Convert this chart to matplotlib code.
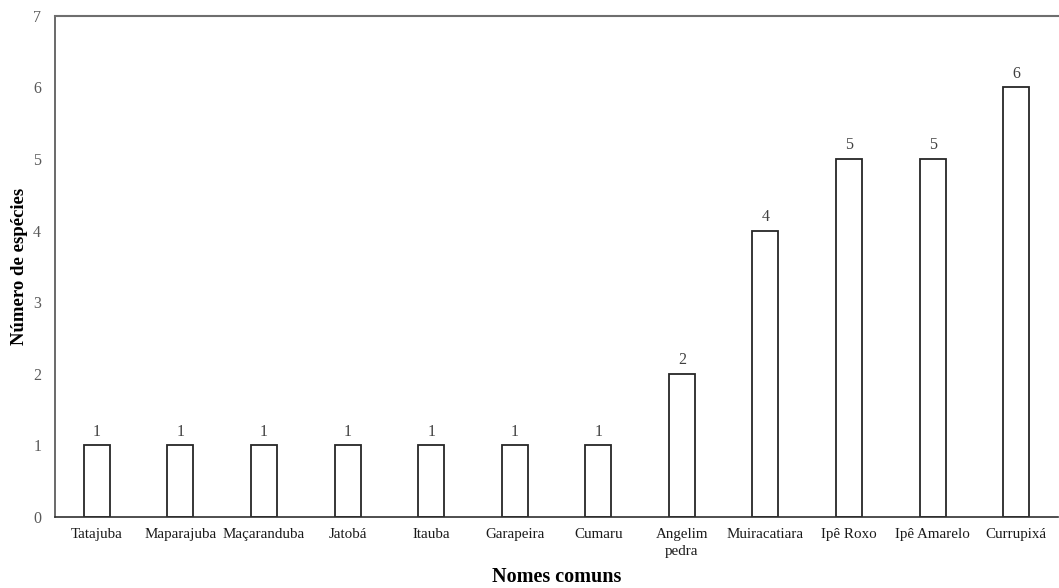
import matplotlib
matplotlib.use("Agg")
import matplotlib.pyplot as plt

nomes = ["Tatajuba", "Maparajuba", "Maçaranduba", "Jatobá", "Itauba", "Garapeira",
         "Cumaru", "Angelim\npedra", "Muiracatiara", "Ipê Roxo", "Ipê Amarelo", "Currupixá"]
especies = [1, 1, 1, 1, 1, 1, 1, 2, 4, 5, 5, 6]

plt.rcParams['font.family'] = ['Liberation Serif', 'DejaVu Serif']

fig = plt.figure(figsize=(10.59, 5.88), dpi=100)
ax = fig.add_axes([0.052, 0.121, 0.947, 0.852])

x = range(len(nomes))
ax.bar(x, especies, width=0.31, color='white', edgecolor='#262626', linewidth=1.3)
for i, v in enumerate(especies):
    ax.text(i, v + 0.08, str(v), ha='center', va='bottom', fontsize=11.5, color='#404040')

ax.set_xlim(-0.5, len(nomes) - 0.5)
ax.set_ylim(0, 7)
ax.set_xticks(list(x))
ax.set_xticklabels(nomes, fontsize=10.8, color='#1a1a1a', linespacing=1.4)
ax.set_yticks(range(8))
ax.tick_params(axis='both', length=0)
ax.tick_params(axis='y', labelcolor='#595959', labelsize=11.5, pad=10)
ax.tick_params(axis='x', pad=8)

ax.spines['right'].set_visible(False)
ax.spines['top'].set_color('#6e6e6e')
ax.spines['top'].set_linewidth(1.5)
ax.spines['left'].set_color('#505050')
ax.spines['left'].set_linewidth(1.2)
ax.spines['bottom'].set_color('#303030')
ax.spines['bottom'].set_linewidth(1.2)

ax.set_xlabel("Nomes comuns", fontsize=14.5, fontweight='bold', va='center')
ax.xaxis.set_label_coords(0.5, -0.121)
ax.set_ylabel("Número de espécies", fontsize=13.5, fontweight='bold', labelpad=3.5)

fig.savefig("out.png", dpi=100)
